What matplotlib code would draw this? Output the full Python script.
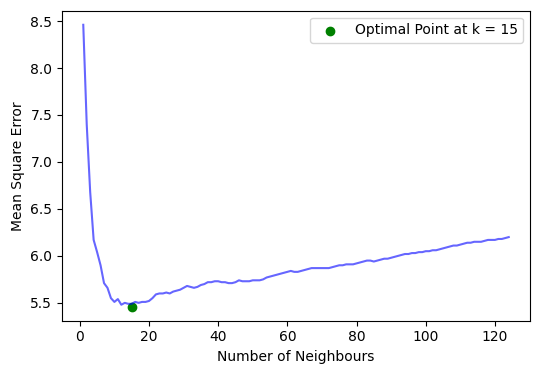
import matplotlib
matplotlib.use("Agg")
import matplotlib.pyplot as plt

k_values = list(range(1, 125))
mse = [
    8.46, 7.40, 6.68, 6.17, 6.04, 5.90, 5.71, 5.66, 5.55, 5.51,
    5.54, 5.48, 5.50, 5.49, 5.49, 5.51, 5.50, 5.51, 5.51, 5.52,
    5.55, 5.59, 5.60, 5.60, 5.61, 5.60, 5.62, 5.63, 5.64, 5.66,
    5.68, 5.67, 5.66, 5.67, 5.69, 5.70, 5.72, 5.72, 5.73, 5.73,
    5.72, 5.72, 5.71, 5.71, 5.72, 5.74, 5.73, 5.73, 5.73, 5.74,
    5.74, 5.74, 5.75, 5.77, 5.78, 5.79, 5.80, 5.81, 5.82, 5.83,
    5.84, 5.83, 5.83, 5.84, 5.85, 5.86, 5.87, 5.87, 5.87, 5.87,
    5.87, 5.87, 5.88, 5.89, 5.90, 5.90, 5.91, 5.91, 5.91, 5.92,
    5.93, 5.94, 5.95, 5.95, 5.94, 5.95, 5.96, 5.97, 5.97, 5.98,
    5.99, 6.00, 6.01, 6.02, 6.02, 6.03, 6.03, 6.04, 6.04, 6.05,
    6.05, 6.06, 6.06, 6.07, 6.08, 6.09, 6.10, 6.11, 6.11, 6.12,
    6.13, 6.14, 6.14, 6.15, 6.15, 6.15, 6.16, 6.17, 6.17, 6.17,
    6.18, 6.18, 6.19, 6.20,
]
best_k = 15
best_mse = 5.46
legend_label = "Optimal Point at k = 15"

fig = plt.figure(figsize=(5.4, 3.74), dpi=100)
ax = fig.add_axes([0.1148, 0.1425, 0.8667, 0.8289])
ax.plot(k_values, mse, color="blue", alpha=0.6)
ax.scatter([best_k], [best_mse], color="green", label=legend_label)
ax.set_xlabel("Number of Neighbours")
ax.set_ylabel("Mean Square Error")
ax.legend(loc="upper right")
fig.savefig("out.png", dpi=100)
